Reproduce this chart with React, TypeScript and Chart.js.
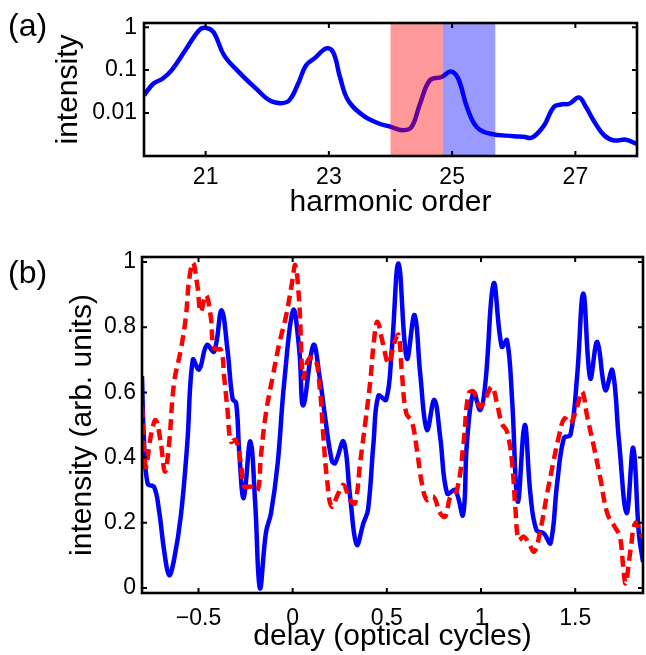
import React, { useEffect, useRef } from "react";
import { Chart, registerables } from "chart.js";

Chart.register(...registerables);

// ---------- Panel (a): harmonic spectrum ----------
const harmonicOrder = [
  20.0, 20.15, 20.3, 20.45, 20.67, 20.89, 21.0, 21.13, 21.3, 21.54, 21.82, 22.03,
  22.22, 22.36, 22.5, 22.63, 22.77, 22.96, 23.07, 23.18, 23.31, 23.55, 23.8, 24.0,
  24.2, 24.34, 24.48, 24.64, 24.83, 24.98, 25.1, 25.24, 25.4, 25.62, 26.0, 26.16,
  26.3, 26.49, 26.65, 26.79, 26.9, 27.06, 27.17, 27.31, 27.47, 27.63, 27.82, 28.0,
];
const spectrumIntensity = [
  0.026, 0.048, 0.063, 0.1, 0.29, 0.84, 0.97, 0.76, 0.22, 0.09, 0.037, 0.02,
  0.017, 0.02, 0.048, 0.13, 0.19, 0.32, 0.26, 0.069, 0.02, 0.0089, 0.0058, 0.0048,
  0.004, 0.0047, 0.0165, 0.058, 0.069, 0.093, 0.063, 0.0138, 0.0047, 0.0033, 0.0029, 0.0028,
  0.0027, 0.0051, 0.0138, 0.016, 0.0165, 0.023, 0.014, 0.0062, 0.003, 0.0023, 0.0024, 0.0019,
];
const redBand = [24.0, 24.85];
const blueBand = [24.85, 25.7];
const harmonicTicks = [21, 23, 25, 27];
const logTicks = [0.01, 0.1, 1];
const logTickLabels = ["0.01", "0.1", "1"];

// ---------- Panel (b): delay scans ----------
const delayBlue = [
  -0.8, -0.79, -0.77, -0.736, -0.71, -0.683, -0.656, -0.63, -0.594, -0.56, -0.53, -0.497,
  -0.456, -0.417, -0.378, -0.346, -0.319, -0.3, -0.284, -0.26, -0.225, -0.199, -0.174, -0.142,
  -0.115, -0.08, -0.045, 0.003, 0.035, 0.056, 0.11, 0.145, 0.172, 0.207, 0.225, 0.27,
  0.305, 0.34, 0.376, 0.4, 0.429, 0.455, 0.496, 0.526, 0.562, 0.606, 0.647, 0.677,
  0.713, 0.752, 0.783, 0.82, 0.863, 0.904, 0.925, 0.96, 0.996, 1.023, 1.067, 1.11,
  1.138, 1.165, 1.195, 1.232, 1.262, 1.294, 1.333, 1.369, 1.404, 1.44, 1.475, 1.51,
  1.543, 1.58, 1.617, 1.66, 1.697, 1.732, 1.773, 1.808, 1.838, 1.86,
];
const blueIntensity = [
  0.65, 0.46, 0.32, 0.31, 0.24, 0.117, 0.04, 0.087, 0.22, 0.44, 0.7, 0.67,
  0.745, 0.725, 0.852, 0.73, 0.58, 0.567, 0.42, 0.276, 0.45, 0.26, 0.0, 0.17,
  0.23, 0.38, 0.63, 0.852, 0.73, 0.56, 0.745, 0.64, 0.525, 0.393, 0.383, 0.449,
  0.28, 0.133, 0.2, 0.24, 0.444, 0.59, 0.577, 0.73, 0.995, 0.704, 0.837, 0.658,
  0.485, 0.577, 0.464, 0.29, 0.3, 0.224, 0.444, 0.6, 0.546, 0.628, 0.934, 0.74,
  0.76, 0.577, 0.265, 0.5, 0.29, 0.178, 0.168, 0.138, 0.32, 0.46, 0.47, 0.648,
  0.903, 0.643, 0.755, 0.607, 0.668, 0.454, 0.23, 0.43, 0.168, 0.08,
];
const delayRed = [
  -0.8, -0.78, -0.754, -0.727, -0.7, -0.678, -0.656, -0.63, -0.594, -0.567, -0.55, -0.529,
  -0.505, -0.488, -0.46, -0.435, -0.417, -0.381, -0.364, -0.346, -0.328, -0.302, -0.275, -0.257,
  -0.222, -0.186, -0.169, -0.142, -0.106, -0.071, -0.036, -0.004, 0.014, 0.035, 0.056, 0.083,
  0.119, 0.145, 0.163, 0.181, 0.207, 0.243, 0.27, 0.305, 0.331, 0.358, 0.385, 0.411,
  0.432, 0.45, 0.479, 0.509, 0.539, 0.562, 0.58, 0.603, 0.633, 0.66, 0.686, 0.713,
  0.748, 0.783, 0.81, 0.837, 0.872, 0.907, 0.934, 0.96, 0.996, 1.028, 1.058, 1.085,
  1.11, 1.138, 1.165, 1.183, 1.2, 1.227, 1.253, 1.283, 1.315, 1.351, 1.383, 1.413,
  1.443, 1.475, 1.51, 1.537, 1.564, 1.599, 1.635, 1.67, 1.709, 1.737, 1.755, 1.768,
  1.794, 1.82, 1.856,
];
const redIntensity = [
  0.556, 0.372, 0.464, 0.515, 0.444, 0.357, 0.444, 0.628, 0.73, 0.832, 0.944, 0.997,
  0.923, 0.847, 0.898, 0.832, 0.735, 0.73, 0.648, 0.546, 0.449, 0.454, 0.383, 0.311,
  0.311, 0.3, 0.403, 0.536, 0.648, 0.75, 0.832, 0.934, 0.99, 0.873, 0.645, 0.7,
  0.704, 0.607, 0.464, 0.342, 0.25, 0.291, 0.316, 0.27, 0.26, 0.383, 0.505, 0.628,
  0.76, 0.816, 0.75, 0.689, 0.75, 0.776, 0.658, 0.536, 0.51, 0.423, 0.321, 0.27,
  0.28, 0.23, 0.219, 0.28, 0.3, 0.444, 0.597, 0.602, 0.556, 0.587, 0.617, 0.566,
  0.505, 0.48, 0.383, 0.24, 0.148, 0.158, 0.138, 0.112, 0.178, 0.29, 0.383, 0.464,
  0.52, 0.505, 0.556, 0.602, 0.525, 0.434, 0.332, 0.23, 0.189, 0.158, 0.066, 0.015,
  0.117, 0.2, 0.158,
];
const delayTicks = [-0.5, 0, 0.5, 1, 1.5];
const delayTickLabels = ["\u22120.5", "0", "0.5", "1", "1.5"];
const linTicks = [0, 0.2, 0.4, 0.6, 0.8, 1];
const linTickLabels = ["0", "0.2", "0.4", "0.6", "0.8", "1"];

const FONT = "'Liberation Sans', Arial, Helvetica, sans-serif";

const framePlugin = {
  id: "frame",
  afterDatasetsDraw(chart: any, _args: any, opts: any) {
    const { ctx, chartArea: a } = chart;
    ctx.save();
    if (opts && opts.bands) {
      const xs = chart.scales.x;
      for (const b of opts.bands) {
        const x0 = xs.getPixelForValue(b.range[0]);
        const x1 = xs.getPixelForValue(b.range[1]);
        ctx.fillStyle = b.color;
        ctx.fillRect(x0, a.top, x1 - x0, a.bottom - a.top);
      }
    }
    ctx.strokeStyle = "#000";
    ctx.lineWidth = 2;
    const L = 5;
    const xs = chart.scales.x;
    const ys = chart.scales.y;
    ctx.beginPath();
    for (const t of xs.ticks) {
      const px = xs.getPixelForValue(t.value);
      ctx.moveTo(px, a.bottom);
      ctx.lineTo(px, a.bottom - L);
      ctx.moveTo(px, a.top);
      ctx.lineTo(px, a.top + L);
    }
    for (const t of ys.ticks) {
      const py = ys.getPixelForValue(t.value);
      ctx.moveTo(a.left, py);
      ctx.lineTo(a.left + L, py);
      ctx.moveTo(a.right, py);
      ctx.lineTo(a.right - L, py);
    }
    ctx.stroke();
    ctx.lineWidth = 2.6;
    ctx.strokeRect(a.left, a.top, a.right - a.left, a.bottom - a.top);
    ctx.restore();
  },
};

function makeTicksSetter(values: number[]) {
  return (s: any) => {
    s.ticks = values.map((value) => ({ value }));
  };
}

export default function App() {
  const refA = useRef<HTMLCanvasElement | null>(null);
  const refB = useRef<HTMLCanvasElement | null>(null);

  useEffect(() => {
    document.body.style.margin = "0";
    Chart.defaults.color = "#000";
    Chart.defaults.font.family = FONT;

    const tickFont = { family: FONT, size: 23 };
    const titleFont = { family: FONT, size: 30 };

    const chartA = new Chart(refA.current as HTMLCanvasElement, {
      type: "line",
      data: {
        datasets: [
          {
            data: harmonicOrder.map((x, i) => ({ x, y: spectrumIntensity[i] })),
            borderColor: "rgb(0,0,255)",
            borderWidth: 4.5,
            pointRadius: 0,
            tension: 0.4,
            fill: false,
          },
        ],
      },
      options: {
        animation: false,
        responsive: false,
        layout: { padding: { top: 23, right: 9, left: 0, bottom: 0 } },
        plugins: {
          legend: { display: false },
          tooltip: { enabled: false },
          frame: {
            bands: [
              { range: redBand, color: "rgba(255,0,0,0.4)" },
              { range: blueBand, color: "rgba(0,0,255,0.4)" },
            ],
          },
        } as any,
        scales: {
          x: {
            type: "linear",
            min: 20,
            max: 28,
            grid: { display: false, drawTicks: false },
            border: { display: false },
            afterBuildTicks: makeTicksSetter(harmonicTicks),
            afterFit: (s: any) => {
              s.height = 69;
            },
            ticks: {
              font: tickFont,
              color: "#000",
              padding: 8,
              maxRotation: 0,
              autoSkip: false,
              callback: (v: any) => String(v),
            },
            title: {
              display: true,
              text: "harmonic order",
              font: titleFont,
              color: "#000",
              padding: { top: 0, bottom: 4 },
            },
          },
          y: {
            type: "logarithmic",
            min: 0.001,
            max: 1.25,
            grid: { display: false, drawTicks: false },
            border: { display: false },
            afterBuildTicks: makeTicksSetter(logTicks),
            afterFit: (s: any) => {
              s.width = 144;
            },
            ticks: {
              font: tickFont,
              color: "#000",
              padding: 7,
              autoSkip: false,
              callback: (v: any) => {
                const i = logTicks.findIndex((t) => Math.abs(t - v) < 1e-9);
                return i >= 0 ? logTickLabels[i] : "";
              },
            },
            title: {
              display: true,
              text: "intensity",
              font: titleFont,
              color: "#000",
              padding: { top: 51, bottom: 0 },
            },
          },
        },
      },
      plugins: [framePlugin as any],
    });

    const chartB = new Chart(refB.current as HTMLCanvasElement, {
      type: "line",
      data: {
        datasets: [
          {
            data: delayRed.map((x, i) => ({ x, y: redIntensity[i] })),
            borderColor: "rgb(255,0,0)",
            borderWidth: 4.5,
            borderDash: [11, 6],
            pointRadius: 0,
            tension: 0.4,
            fill: false,
            order: 0,
          },
          {
            data: delayBlue.map((x, i) => ({ x, y: blueIntensity[i] })),
            borderColor: "rgb(0,0,255)",
            borderWidth: 4.5,
            pointRadius: 0,
            tension: 0.4,
            fill: false,
            order: 1,
          },
        ],
      },
      options: {
        animation: false,
        responsive: false,
        layout: { padding: { top: 32, right: 3, left: 0, bottom: 0 } },
        plugins: {
          legend: { display: false },
          tooltip: { enabled: false },
          frame: {},
        } as any,
        scales: {
          x: {
            type: "linear",
            min: -0.8,
            max: 1.86,
            grid: { display: false, drawTicks: false },
            border: { display: false },
            afterBuildTicks: makeTicksSetter(delayTicks),
            afterFit: (s: any) => {
              s.height = 62;
            },
            ticks: {
              font: tickFont,
              color: "#000",
              padding: 12,
              maxRotation: 0,
              autoSkip: false,
              callback: (v: any) => {
                const i = delayTicks.findIndex((t) => Math.abs(t - v) < 1e-9);
                return i >= 0 ? delayTickLabels[i] : "";
              },
            },
            title: {
              display: true,
              text: "delay (optical cycles)",
              font: titleFont,
              color: "#000",
              padding: { top: 0, bottom: 0 },
            },
          },
          y: {
            type: "linear",
            min: -0.015,
            max: 1.015,
            grid: { display: false, drawTicks: false },
            border: { display: false },
            afterBuildTicks: makeTicksSetter(linTicks),
            afterFit: (s: any) => {
              s.width = 142;
            },
            ticks: {
              font: tickFont,
              color: "#000",
              padding: 6,
              autoSkip: false,
              callback: (v: any) => {
                const i = linTicks.findIndex((t) => Math.abs(t - v) < 1e-9);
                return i >= 0 ? linTickLabels[i] : "";
              },
            },
            title: {
              display: true,
              text: "intensity (arb. units)",
              font: titleFont,
              color: "#000",
              padding: { top: 65, bottom: 0 },
            },
          },
        },
      },
      plugins: [framePlugin as any],
    });

    return () => {
      chartA.destroy();
      chartB.destroy();
    };
  }, []);

  const labelStyle: React.CSSProperties = {
    position: "absolute",
    left: 8,
    fontFamily: FONT,
    fontSize: 32,
    lineHeight: 1,
    color: "#000",
  };

  return (
    <div style={{ position: "relative", width: 646, height: 655, background: "#fff", overflow: "hidden" }}>
      <canvas ref={refA} width={646} height={225} style={{ position: "absolute", left: 0, top: 0 }} />
      <canvas ref={refB} width={646} height={430} style={{ position: "absolute", left: 0, top: 225 }} />
      <div style={{ ...labelStyle, top: 9 }}>(a)</div>
      <div style={{ ...labelStyle, top: 256 }}>(b)</div>
    </div>
  );
}
